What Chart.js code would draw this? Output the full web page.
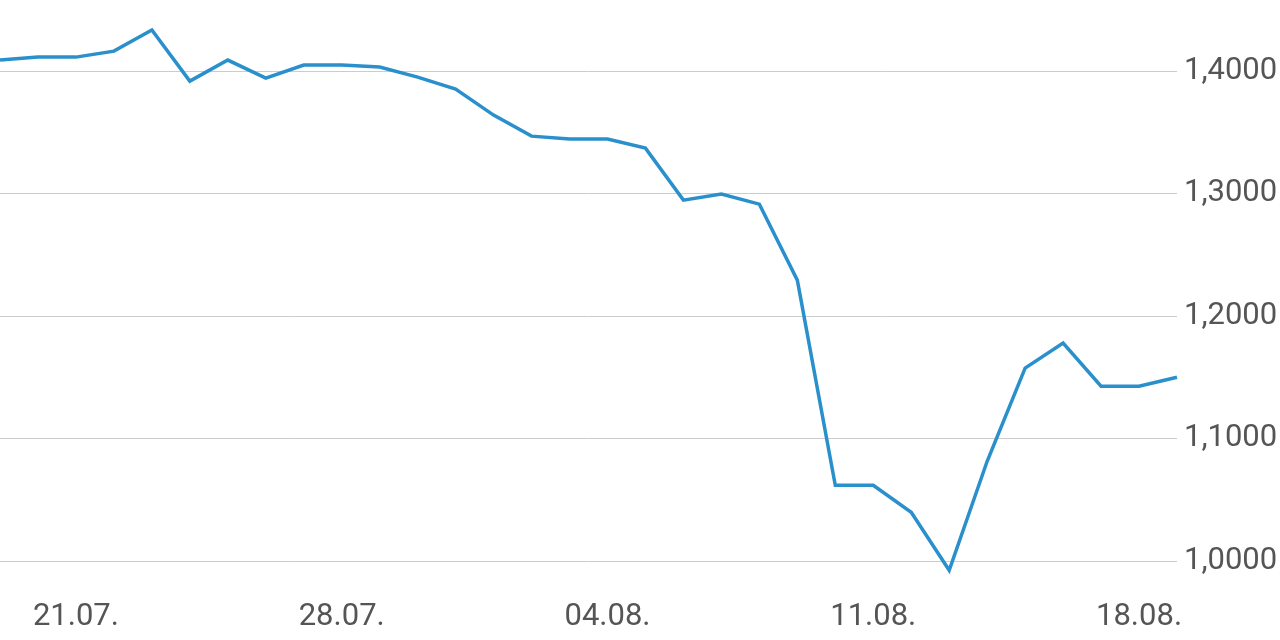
<!DOCTYPE html>
<html>
<head>
<meta charset="utf-8">
<script src="https://cdn.jsdelivr.net/npm/chart.js@4"></script>
<style>
  html, body { margin: 0; padding: 0; background: #fff; }
</style>
</head>
<body>
<canvas id="chart" width="1280" height="640"></canvas>
<script>
const dates = [
  "19.07.", "20.07.", "21.07.", "22.07.", "23.07.", "24.07.", "25.07.", "26.07.",
  "27.07.", "28.07.", "29.07.", "30.07.", "31.07.", "01.08.", "02.08.", "03.08.",
  "04.08.", "05.08.", "06.08.", "07.08.", "08.08.", "09.08.", "10.08.", "11.08.",
  "12.08.", "13.08.", "14.08.", "15.08.", "16.08.", "17.08.", "18.08.", "19.08."
];
const rates = [
  1.4090, 1.4114, 1.4114, 1.4163, 1.4335, 1.3918, 1.4090, 1.3943,
  1.4049, 1.4049, 1.4033, 1.3951, 1.3853, 1.3641, 1.3469, 1.3445,
  1.3445, 1.3371, 1.2947, 1.2996, 1.2914, 1.2294, 1.0620, 1.0620,
  1.0400, 0.9927, 1.0816, 1.1576, 1.1780, 1.1429, 1.1429, 1.1502
];
const shownDates = ["21.07.", "28.07.", "04.08.", "11.08.", "18.08."];
const yTicks = [1.0, 1.1, 1.2, 1.3, 1.4];

const ctx = document.getElementById("chart");

// chart.js pads the chart area for half a tick label; the reference has none
const noPad = (axis) => {
  axis.paddingTop = 0;
  axis.paddingBottom = 0;
  axis.paddingLeft = 0;
  axis.paddingRight = 0;
};

const config = {
  type: "line",
  data: {
    labels: dates,
    datasets: [
      {
        data: rates,
        borderColor: "#2a90cb",
        borderWidth: 3.5,
        pointRadius: 0,
        tension: 0,
        fill: false,
      },
    ],
  },
  options: {
    responsive: false,
    animation: false,
    layout: { padding: 0 },
    plugins: {
      legend: { display: false },
      tooltip: { enabled: false },
    },
    scales: {
      x: {
        offset: false,
        afterFit: noPad,
        grid: { display: false, drawTicks: false },
        border: { display: false },
        ticks: {
          autoSkip: false,
          maxRotation: 0,
          padding: 4,
          color: "#555",
          font: { family: "Roboto", size: 31 },
          callback: function (val, i) {
            const l = dates[i];
            return shownDates.includes(l) ? l : "";
          },
        },
      },
      y: {
        position: "right",
        min: 0.97265,
        max: 1.458,
        afterFit: (axis) => {
          noPad(axis);
          axis.width = 103;
        },
        afterBuildTicks: (axis) => {
          axis.ticks = yTicks.map((v) => ({ value: v }));
        },
        grid: { color: "#cccccc", lineWidth: 1, drawTicks: false },
        border: { display: false },
        ticks: {
          padding: 7,
          color: "#555",
          font: { family: "Roboto", size: 31 },
          callback: (v) => v.toFixed(4).replace(".", ","),
        },
      },
    },
  },
};

const myChart = new Chart(ctx, config);
</script>
</body>
</html>
